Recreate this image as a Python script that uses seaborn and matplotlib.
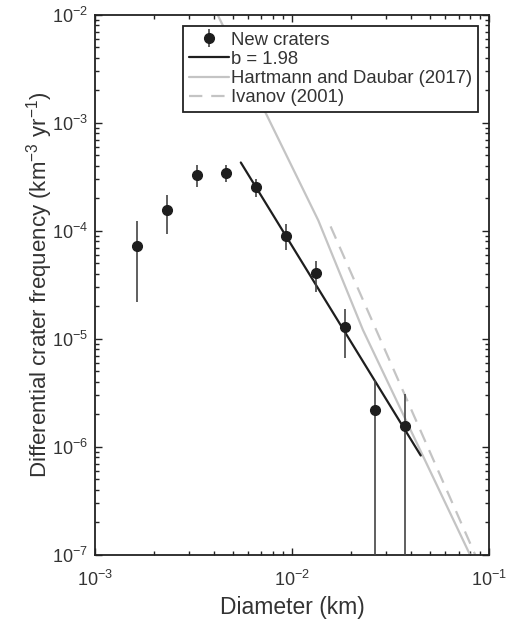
import numpy as np
import pandas as pd
import seaborn as sns
import matplotlib.pyplot as plt
from matplotlib.ticker import LogLocator, NullFormatter

# new crater counts (km) and differential frequency (km^-3 yr^-1)
diam = [1.64e-3, 2.32e-3, 3.28e-3, 4.64e-3, 6.56e-3, 9.33e-3, 1.32e-2, 1.86e-2, 2.64e-2, 3.75e-2]
freq = [7.3e-5, 1.55e-4, 3.3e-4, 3.47e-4, 2.54e-4, 9.0e-5, 4.06e-5, 1.28e-5, 2.2e-6, 1.56e-6]
err_hi = [1.24e-4, 2.17e-4, 4.06e-4, 4.08e-4, 3.03e-4, 1.16e-4, 5.27e-5, 1.9e-5, 4.17e-6, 3.08e-6]
err_lo = [2.2e-5, 9.3e-5, 2.57e-4, 2.84e-4, 2.07e-4, 6.67e-5, 2.74e-5, 6.6e-6, 1e-9, 1e-9]

# power-law fit b = 1.98
fit_d = [5.5e-3, 4.5e-2]
fit_y = [4.3e-4, 8.3e-7]

# Hartmann and Daubar (2017) isochron
hd_d = [4.2e-3, 1.36e-2, 2.29e-2, 8.0e-2]
hd_y = [1.0e-2, 1.25e-4, 1.21e-5, 1.0e-7]

# Ivanov (2001)
iv_d = [1.57e-2, 8.5e-2]
iv_y = [1.1e-4, 1.0e-7]

sns.set_style("ticks")
plt.rcParams['font.family'] = ['Liberation Sans', 'DejaVu Sans']
plt.rcParams['mathtext.fontset'] = 'custom'
plt.rcParams['mathtext.rm'] = 'Liberation Sans'
plt.rcParams['mathtext.it'] = 'Liberation Sans'

fig = plt.figure(figsize=(5.1, 6.24), dpi=100)
ax = fig.add_axes([0.186, 0.111, 0.773, 0.865])

sns.lineplot(x=hd_d, y=hd_y, ax=ax, color="#c4c4c4", lw=1.6,
             label="Hartmann and Daubar (2017)", sort=False)
sns.lineplot(x=iv_d, y=iv_y, ax=ax, color="#c4c4c4", lw=1.6, label="Ivanov (2001)")
ax.lines[-1].set_dashes((6, 4))
sns.lineplot(x=fit_d, y=fit_y, ax=ax, color="#1e1e1e", lw=1.6, label="b = 1.98")

f = np.array(freq)
yerr = [f - np.array(err_lo), np.array(err_hi) - f]
ax.errorbar(diam, freq, yerr=yerr, fmt="o", color="#1e1e1e", ecolor="#444444",
            ms=7, elinewidth=1.2, capsize=0, label="New craters", zorder=5)

ax.set_xscale("log")
ax.set_yscale("log")
ax.set_xlim(1e-3, 1e-1)
ax.set_ylim(1e-7, 1e-2)

ax.xaxis.set_major_locator(LogLocator(base=10, numticks=10))
ax.yaxis.set_major_locator(LogLocator(base=10, numticks=10))
ax.xaxis.set_minor_locator(LogLocator(base=10, subs=np.arange(2, 10), numticks=20))
ax.yaxis.set_minor_locator(LogLocator(base=10, subs=np.arange(2, 10), numticks=20))
ax.xaxis.set_minor_formatter(NullFormatter())
ax.yaxis.set_minor_formatter(NullFormatter())

ax.tick_params(which="both", direction="in", top=True, right=True, labelsize=13,
               color="#222222", labelcolor="#333333")
ax.tick_params(which="major", length=5, width=1)
ax.tick_params(which="minor", length=3, width=1)
ax.tick_params(axis="x", which="major", pad=11)
ax.tick_params(axis="y", which="major", pad=5)
for s in ax.spines.values():
    s.set_linewidth(1.3)
    s.set_color("#222222")

ax.set_xlabel("Diameter (km)", fontsize=16.5, color="#333333", labelpad=4)
ax.set_ylabel("Differential crater frequency (km$^{-3}$ yr$^{-1}$)", fontsize=16,
              color="#333333", labelpad=-2)

h, l = ax.get_legend_handles_labels()
order = [l.index(n) for n in ["New craters", "b = 1.98", "Hartmann and Daubar (2017)", "Ivanov (2001)"]]
leg = ax.legend([h[i] for i in order], [l[i] for i in order], loc="upper right",
                fontsize=13.3, frameon=True, fancybox=False, framealpha=1,
                edgecolor="#222222", borderaxespad=0.6, handlelength=2.2,
                handletextpad=0.1, labelspacing=0.12, borderpad=0.3)
leg.get_frame().set_linewidth(1.3)
for t in leg.get_texts():
    t.set_color("#333333")

fig.savefig("out.png", dpi=100)
